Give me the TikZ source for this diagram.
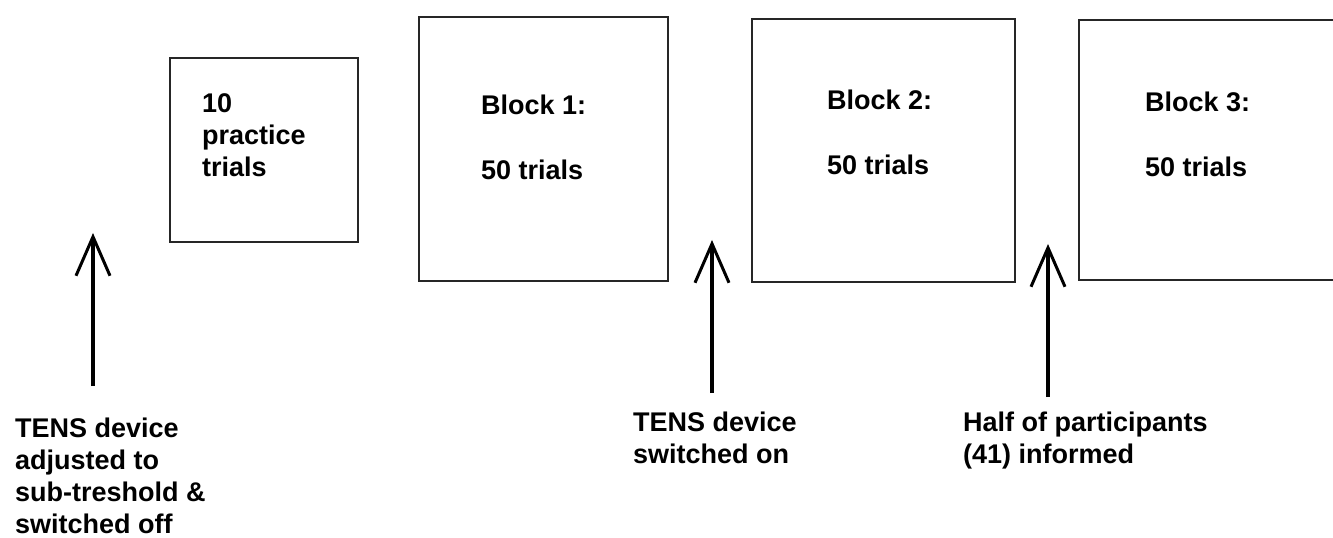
\documentclass[tikz,border=0pt]{standalone}
\usepackage{fontspec}
\setmainfont{Liberation Sans}
\usetikzlibrary{arrows.meta}
\tikzset{
  box/.style={draw=black!85, line width=2bp, inner sep=0pt},
  lbl/.style={font=\bfseries\fontsize{27bp}{32bp}\selectfont, align=left, inner sep=0pt, anchor=base west},
  up/.style={line width=3.5bp, -{Straight Barb[length=39bp,width=34bp,line width=3bp]}},
}
\begin{document}
\begin{tikzpicture}[x=1bp,y=-1bp]
\path[use as bounding box, clip] (0,0) rectangle (1333,538);
\fill[white] (0,0) rectangle (1333,538);
% boxes
\node[box, minimum width=188bp, minimum height=184bp, anchor=north west] (p) at (169,57) {};
\node[box, minimum width=249bp, minimum height=264bp, anchor=north west] (b1) at (418,16) {};
\node[box, minimum width=263bp, minimum height=263bp, anchor=north west] (b2) at (751,18) {};
\node[box, minimum width=300bp, minimum height=260bp, anchor=north west] (b3) at (1078,19) {};
% box texts (base anchor of a multi-line node = last line's baseline)
\node[lbl] (pt) at (202,177) {10\\practice\\trials};
\node[lbl] (b1a) at (481,115) {Block 1:};
\node[lbl] (b1b) at (481,180) {50 trials};
\node[lbl] (b2a) at (827,110) {Block 2:};
\node[lbl] (b2b) at (827,175) {50 trials};
\node[lbl] (b3a) at (1145,112) {Block 3:};
\node[lbl] (b3b) at (1145,177) {50 trials};
% bottom labels
\node[lbl] (l1) at (15,533) {TENS device\\adjusted to\\sub-treshold \&\\switched off};
\node[lbl] (l2) at (633,463) {TENS device\\switched on};
\node[lbl] (l3) at (963,463) {Half of participants\\(41) informed};
% arrows
\coordinate (a1s) at (93,386);
\coordinate (a1e) at (93,233);
\coordinate (a2s) at (712,393);
\coordinate (a2e) at (712,240);
\coordinate (a3s) at (1048,397);
\coordinate (a3e) at (1048,244);
\draw[up] (a1s) -- (a1e);
\draw[up] (a2s) -- (a2e);
\draw[up] (a3s) -- (a3e);
\end{tikzpicture}
\end{document}
